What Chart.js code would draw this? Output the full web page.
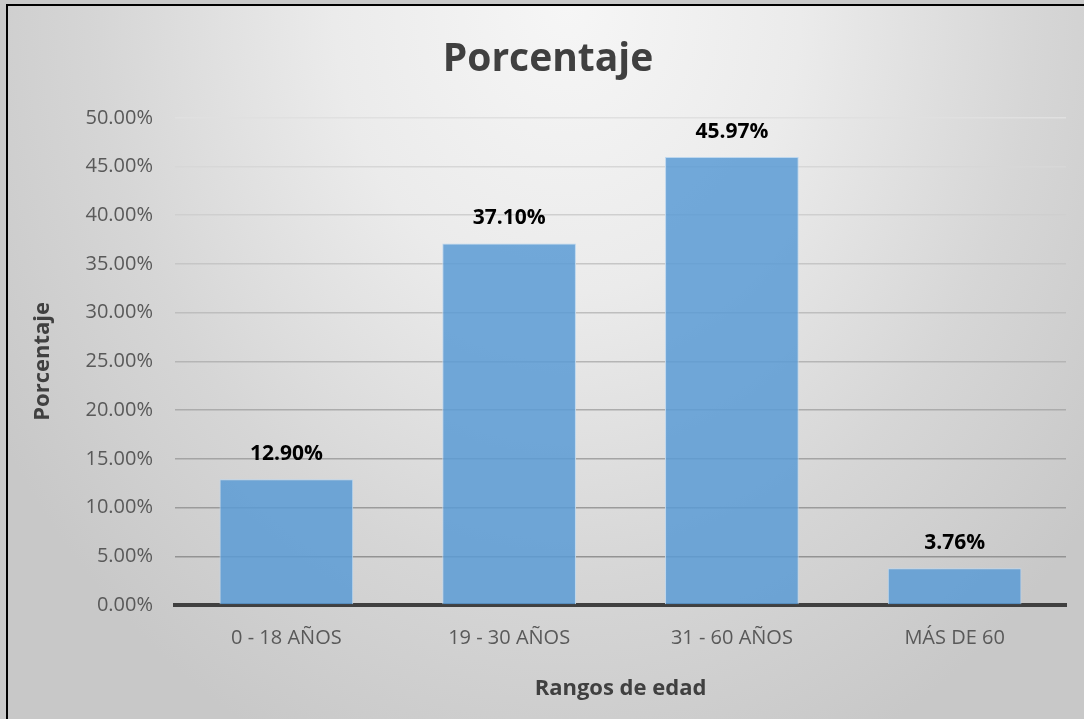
<!DOCTYPE html>
<html>
<head>
<meta charset="utf-8">
<script src="https://cdn.jsdelivr.net/npm/chart.js@4"></script>
<style>
  html, body { margin: 0; padding: 0; background: #c9c9c9; overflow: hidden; }
  #frame {
    position: absolute; left: 6px; top: 4px; width: 1076px; height: 713px;
    border-left: 2px solid #000; border-top: 2px solid #000;
    background: radial-gradient(ellipse 62% 115% at 52% 0%, #f6f6f6 0%, #ebebeb 35%, #d6d6d6 70%, #c8c8c8 100%);
  }
  canvas { display: block; }
</style>
</head>
<body>
<div id="frame"><canvas id="chart" width="1076" height="713"></canvas></div>
<script>
// categorias y valores (%)
var categorias = ['0 - 18 AÑOS', '19 - 30 AÑOS', '31 - 60 AÑOS', 'MÁS DE 60'];
var porcentajes = [12.90, 37.10, 45.97, 3.76];
var ticksY = [0, 5, 10, 15, 20, 25, 30, 35, 40, 45, 50];

var fuente = '"Open Sans", "Noto Sans", sans-serif';

// etiquetas encima de cada barra
var etiquetas = {
  id: 'etiquetas',
  afterDatasetsDraw: function(chart) {
    var ctx = chart.ctx;
    var meta = chart.getDatasetMeta(0);
    ctx.save();
    ctx.font = 'bold 21px ' + fuente;
    ctx.fillStyle = '#000';
    ctx.textAlign = 'center';
    ctx.textBaseline = 'middle';
    meta.data.forEach(function(bar, i) {
      ctx.fillText(porcentajes[i].toFixed(2) + '%', bar.x, bar.y - 25);
    });
    ctx.restore();
  }
};

var chart = new Chart(document.getElementById('chart'), {
  type: 'bar',
  data: {
    labels: categorias,
    datasets: [{
      label: 'Porcentaje',
      data: porcentajes,
      backgroundColor: 'rgba(91,155,213,0.85)',
      borderColor: '#bdd7ee',
      borderWidth: 1,
      categoryPercentage: 1,
      barPercentage: 0.6
    }]
  },
  options: {
    responsive: false,
    animation: false,
    layout: { padding: { left: 22, right: 18, top: 0, bottom: 0 } },
    plugins: {
      legend: { display: false },
      tooltip: { enabled: false },
      title: {
        display: true,
        text: 'Porcentaje',
        color: '#404040',
        font: { family: fuente, size: 39, weight: 'bold' },
        padding: { top: 30, bottom: 35 }
      }
    },
    scales: {
      x: {
        grid: { display: false },
        border: { display: true, color: '#404040', width: 4 },
        ticks: { color: '#595959', font: { family: fuente, size: 20 }, padding: 13 },
        title: {
          display: true, text: 'Rangos de edad', color: '#404040',
          font: { family: fuente, size: 22, weight: 'bold' },
          padding: { top: 0, bottom: 17 }
        },
        afterFit: function(scale) { scale.height = 114; }
      },
      y: {
        min: 0, max: 50,
        afterBuildTicks: function(scale) { scale.ticks = ticksY.map(function(v) { return { value: v }; }); },
        grid: {
          drawTicks: false,
          lineWidth: 1.5,
          color: function(c) {
            var t = (c.tick ? c.tick.value : 0) / 50;
            var g = Math.round(138 + t * 86);
            return 'rgb(' + g + ',' + g + ',' + g + ')';
          }
        },
        border: { display: false },
        ticks: {
          color: '#595959', font: { family: fuente, size: 20 }, padding: 22,
          callback: function(v) { return v.toFixed(2) + '%'; }
        },
        title: {
          display: true, text: 'Porcentaje', color: '#404040',
          font: { family: fuente, size: 22, weight: 'bold' },
          padding: 0
        },
        afterFit: function(scale) { scale.width = 145; }
      }
    }
  },
  plugins: [etiquetas]
});
</script>
</body>
</html>
